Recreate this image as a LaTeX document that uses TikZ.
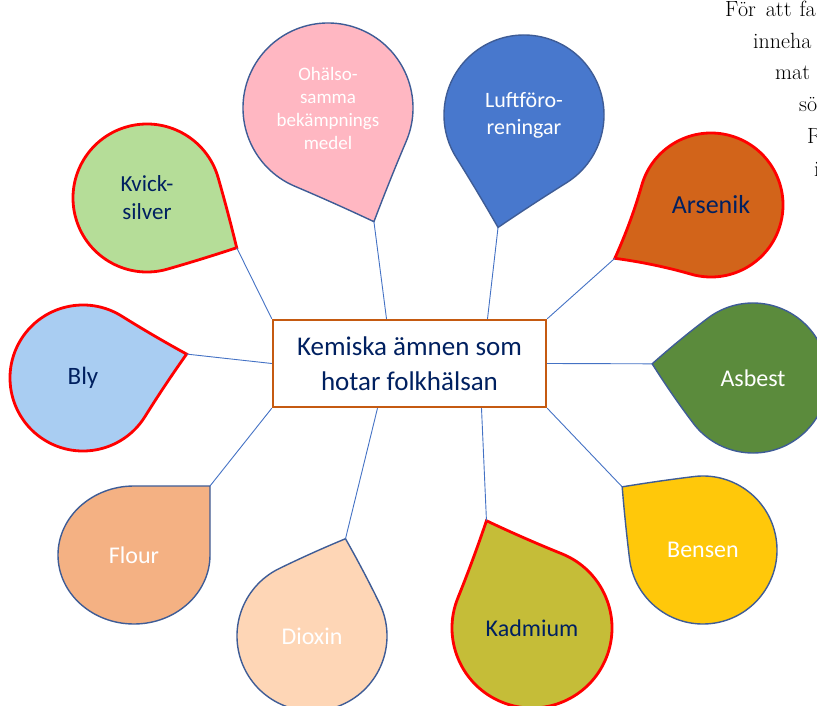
\documentclass[tikz,border=0pt]{standalone}
\usepackage{fontspec}
\newfontfamily\calibri{Carlito}

\definecolor{navytext}{RGB}{0,32,96}
\definecolor{boxorange}{RGB}{197,90,17}
\definecolor{linkblue}{RGB}{68,114,196}
\definecolor{edgeblue}{RGB}{62,92,150}
\definecolor{kvickfill}{RGB}{181,221,152}
\definecolor{pinkfill}{RGB}{255,183,194}
\definecolor{luftfill}{RGB}{72,120,205}
\definecolor{arsenikfill}{RGB}{210,100,26}
\definecolor{asbestfill}{RGB}{91,139,60}
\definecolor{bensenfill}{RGB}{255,200,10}
\definecolor{kadmiumfill}{RGB}{197,189,56}
\definecolor{dioxinfill}{RGB}{254,214,182}
\definecolor{flourfill}{RGB}{244,177,131}
\definecolor{blyfill}{RGB}{169,205,242}

% teardrop: path opts, label opts, centre, x radius, y radius, tip factor, tip angle, name, text
\newcommand\drop[9]{%
  \path[#1, shift={#3}, x=#4pt, y=#5pt, rotate=#7-45]
    (-1,0) arc[start angle=180, end angle=90, radius=1]
    .. controls ({#6/3},1) and ({2*#6/3},{(#6+2)/3}) .. (#6,#6) coordinate (#8-tip)
    .. controls ({(#6+2)/3},{2*#6/3}) and (1,{#6/3}) .. (1,0)
    arc[start angle=0, end angle=-180, radius=1] -- cycle
    (0,0) node[droplabel, #2] (#8) {#9};
}

\begin{document}
\begin{tikzpicture}[x=1pt, y=-1pt,
    redrim/.style={draw=red, line width=2.8pt},
    bluerim/.style={draw=edgeblue, line width=1.4pt},
    droplabel/.style={align=center, inner sep=0pt, font=\calibri},
    navylabel/.style={text=navytext},
    whitelabel/.style={text=white},
    link/.style={draw=linkblue, line width=0.9pt},
    pagetext/.style={anchor=base west, inner sep=0pt, font=\fontsize{22}{26}\selectfont}]
  \useasboundingbox (0,0) rectangle (817,706);
  \clip (0,0) rectangle (817,706);

  % page text cut by the picture
  \node[pagetext] (page1) at (725,17) {För\hspace{10pt}att\hspace{8pt}fa};
  \node[pagetext] (page2) at (753,49) {inneha};
  \node[pagetext] (page3) at (775,80) {mat};
  \node[pagetext] (page4) at (799,112) {sö};
  \node[pagetext] (page5) at (807,144) {R};
  \node[pagetext] (page6) at (814,176) {i};

  % drops
  \drop{redrim, fill=kvickfill}{navylabel, font=\calibri\fontsize{23}{28}\selectfont}%
    {(147,198)}{74}{74}{0.98}{-29}{kvick}{Kvick-\\silver}
  \drop{bluerim, fill=pinkfill}{whitelabel, font=\calibri\fontsize{19}{23}\selectfont}%
    {(328,108)}{85}{85}{1.02}{-68}{pink}{Ohälso-\\samma\\bekämpnings\\medel}
  \drop{bluerim, fill=luftfill}{whitelabel, font=\calibri\fontsize{22}{27}\selectfont}%
    {(524,115)}{80}{80}{1.02}{-103}{luft}{Luftföro-\\reningar}
  \drop{redrim, fill=arsenikfill}{navylabel, font=\calibri\fontsize{26}{31}\selectfont}%
    {(711,205)}{72}{72}{1.08}{-151}{arsenik}{Arsenik}
  \drop{bluerim, fill=asbestfill}{whitelabel, font=\calibri\fontsize{24}{29}\selectfont}%
    {(753,378)}{75}{75}{0.96}{172}{asbest}{Asbest}
  \drop{bluerim, fill=bensenfill}{whitelabel, font=\calibri\fontsize{24}{29}\selectfont}%
    {(703,550)}{74}{74}{0.98}{142}{bensen}{Bensen}
  \drop{redrim, fill=kadmiumfill}{navylabel, font=\calibri\fontsize{24}{29}\selectfont}%
    {(532,628)}{80}{80}{1.03}{113}{kadmium}{Kadmium}
  \drop{bluerim, fill=dioxinfill}{whitelabel, font=\calibri\fontsize{24}{29}\selectfont}%
    {(312,636)}{75}{75}{0.97}{71}{dioxin}{Dioxin}
  \drop{bluerim, fill=flourfill}{whitelabel, font=\calibri\fontsize{24}{29}\selectfont}%
    {(134,555)}{76}{69}{1}{45}{flour}{Flour}
  \drop{redrim, fill=blyfill}{navylabel, font=\calibri\fontsize{25}{30}\selectfont}%
    {(83,378)}{73}{73}{1.03}{13}{bly}{Bly}

  % centre box
  \node[draw=boxorange, line width=2.4pt, fill=white, minimum width=273pt, minimum height=87pt,
        inner sep=0pt, align=center, text=navytext, font=\calibri\fontsize{27}{35}\selectfont]
    (box) at (409.5,363.5) {Kemiska ämnen som\\hotar folkhälsan};

  % connectors
  \draw[link] (box.north west) -- (kvick-tip);
  \draw[link] ([xshift=-23pt]box.north) -- (pink-tip);
  \draw[link] ([xshift=78pt]box.north) -- (luft-tip);
  \draw[link] (box.north east) -- (arsenik-tip);
  \draw[link] (box.east) -- (asbest-tip);
  \draw[link] (box.south east) -- (bensen-tip);
  \draw[link] ([xshift=72pt]box.south) -- (kadmium-tip);
  \draw[link] ([xshift=-32pt]box.south) -- (dioxin-tip);
  \draw[link] (box.south west) -- (flour-tip);
  \draw[link] (box.west) -- (bly-tip);
\end{tikzpicture}
\end{document}
